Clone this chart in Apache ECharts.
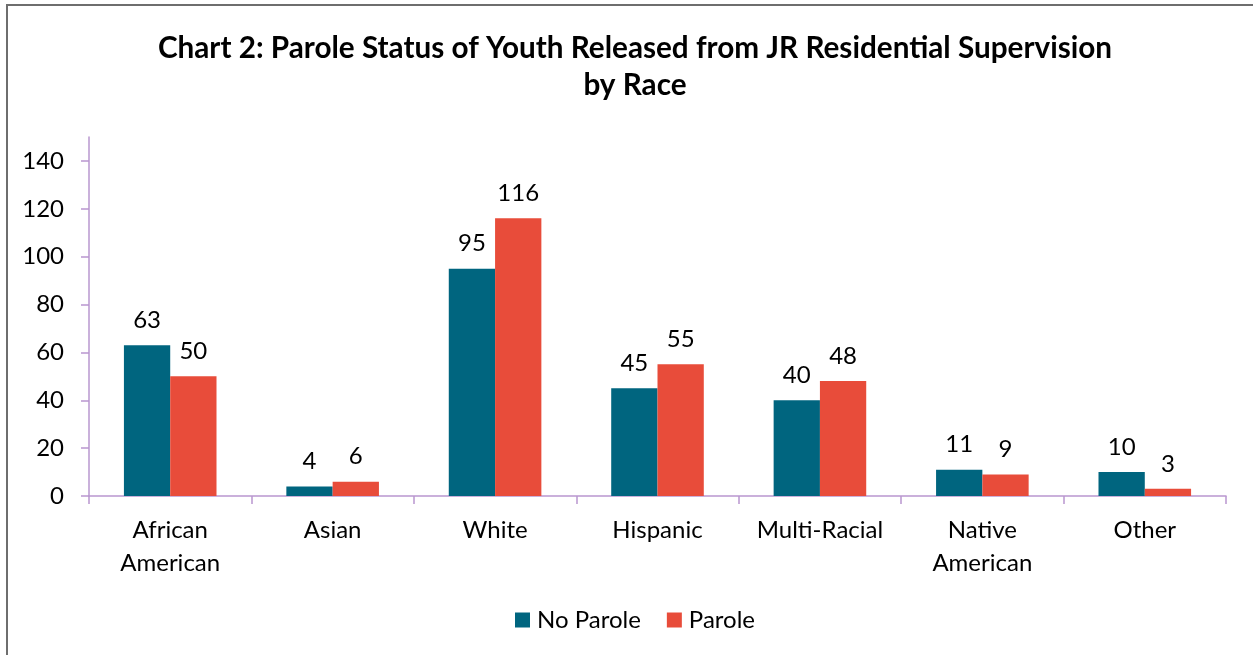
<!DOCTYPE html>
<html>
<head>
<meta charset="utf-8">
<script src="https://cdn.jsdelivr.net/npm/echarts@6/dist/echarts.min.js"></script>
<style>
html,body{margin:0;padding:0;background:#fff;}
#chart{width:1253px;height:655px;}
</style>
</head>
<body>
<div id="chart"></div>
<script>
const titleText = 'Chart 2: Parole Status of Youth Released from JR Residential Supervision\nby Race';
const categories = ['African\nAmerican', 'Asian', 'White', 'Hispanic', 'Multi-Racial', 'Native\nAmerican', 'Other'];
const noParole = [63, 4, 95, 45, 40, 11, 10];
const parole = [50, 6, 116, 55, 48, 9, 3];
const yTicks = [0, 20, 40, 60, 80, 100, 120, 140];

const FONT = 'Lato, "Open Sans", sans-serif';
const axisColor = '#b997cf';

const chart = echarts.init(document.getElementById('chart'), null, {renderer: 'canvas'});
chart.setOption({
  animation: false,
  backgroundColor: '#fff',
  title: {
    text: titleText,
    left: 630,
    textAlign: 'center',
    top: 25,
    textStyle: {fontFamily: FONT, fontSize: 29.7, fontWeight: 'bold', color: '#000', lineHeight: 37}
  },
  graphic: [
    {type: 'line', shape: {x1: 7, y1: 4, x2: 7, y2: 655}, style: {stroke: '#6e6e6e', lineWidth: 2}, silent: true},
    {type: 'line', shape: {x1: 6, y1: 5, x2: 1253, y2: 5}, style: {stroke: '#6e6e6e', lineWidth: 2}, silent: true}
  ],
  legend: {
    bottom: 18,
    left: 510,
    itemWidth: 15,
    itemHeight: 15,
    itemGap: 26,
    icon: 'rect',
    textStyle: {fontFamily: FONT, fontSize: 24, color: '#000', padding: [0, 0, 0, 2]},
    data: ['No Parole', 'Parole']
  },
  grid: {left: 89, right: 27, top: 137, bottom: 159, containLabel: false},
  xAxis: {
    type: 'category',
    data: categories,
    axisLine: {lineStyle: {color: axisColor, width: 1.5}},
    axisTick: {show: true, alignWithLabel: false, length: 8, lineStyle: {color: axisColor, width: 1.5}},
    axisLabel: {fontFamily: FONT, fontSize: 24, color: '#000', margin: 18, lineHeight: 33, interval: 0}
  },
  yAxis: {
    type: 'value',
    min: 0,
    max: 150,
    interval: 10,
    splitLine: {show: false},
    axisLine: {show: true, lineStyle: {color: axisColor, width: 1.5}},
    axisTick: {show: true, length: 8, customValues: yTicks, lineStyle: {color: axisColor, width: 1.5}},
    axisLabel: {fontFamily: FONT, fontSize: 24, color: '#000', margin: 25, customValues: yTicks}
  },
  series: [
    {
      name: 'No Parole', type: 'bar', data: noParole,
      barGap: '0%', barCategoryGap: '43%',
      itemStyle: {color: '#00657f'},
      label: {show: true, position: 'top', distance: 13, fontFamily: FONT, fontSize: 24, color: '#000'}
    },
    {
      name: 'Parole', type: 'bar', data: parole,
      itemStyle: {color: '#e84c3a'},
      label: {show: true, position: 'top', distance: 13, fontFamily: FONT, fontSize: 24, color: '#000'}
    }
  ]
});
</script>
</body>
</html>
